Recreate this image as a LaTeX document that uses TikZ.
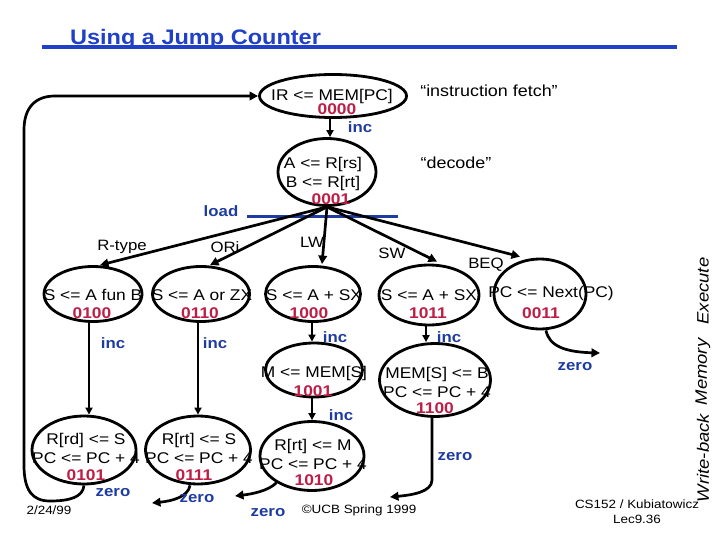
\documentclass[tikz,border=0pt]{standalone}
\usepackage{fontspec}
\setmainfont{Liberation Sans}[FakeStretch=1.12]
\usetikzlibrary{shapes.geometric,arrows.meta}
\definecolor{titleblue}{RGB}{32,64,200}
\definecolor{incblue}{RGB}{30,60,160}
\definecolor{numred}{RGB}{190,30,70}
\begin{document}
\begin{tikzpicture}[x=1pt,y=-1pt,
  st/.style={ellipse,draw,line width=2.8pt,inner sep=0pt},
  txt/.style={font=\fontsize{15.5}{19}\selectfont,align=center,inner sep=0pt},
  num/.style={font=\bfseries\fontsize{15.5}{19}\selectfont,text=numred,inner sep=0pt},
  blab/.style={font=\bfseries\fontsize{15}{18}\selectfont,text=incblue,inner sep=0pt},
  klab/.style={font=\fontsize{15}{18}\selectfont,inner sep=0pt},
  small/.style={font=\fontsize{12}{15}\selectfont,inner sep=0pt,align=center},
  vlab/.style={font=\itshape\fontsize{16.5}{18}\selectfont,inner sep=0pt,rotate=90},
  arr/.style={-{Triangle[length=8.5pt,width=8.5pt]},line width=2.7pt},
  incarr/.style={-{Triangle[length=7pt,width=7pt]},line width=2pt},
]
\useasboundingbox (0,0) rectangle (720,540);

% title
\node[anchor=base,font=\bfseries\fontsize{21}{24}\selectfont,text=titleblue,inner sep=0pt] (title) at (195.5,45) {Using a Jump Counter};
\coordinate (tl1) at (42,47.5);
\coordinate (tl2) at (677,47.5);
\draw[titleblue,line width=4pt] (tl1) -- (tl2);

% states
\node[st,minimum width=147pt,minimum height=43pt] (f0) at (333,96) {};
\node[st,minimum width=98pt,minimum height=67pt] (f1) at (327,172) {};
\node[st,minimum width=98pt,minimum height=55pt] (s4) at (93,294) {};
\node[st,minimum width=97pt,minimum height=55pt] (s6) at (201,294) {};
\node[st,minimum width=95pt,minimum height=55pt] (s8) at (313,294) {};
\node[st,minimum width=100pt,minimum height=60pt] (s11) at (429,295) {};
\node[st,minimum width=92pt,minimum height=70pt] (s3) at (540,294) {};
\node[st,minimum width=97pt,minimum height=54pt] (s9) at (314,370) {};
\node[st,minimum width=111pt,minimum height=73pt] (s12) at (435,380) {};
\node[st,minimum width=104pt,minimum height=68pt] (s5) at (84,450) {};
\node[st,minimum width=105pt,minimum height=68pt] (s7) at (198,450) {};
\node[st,minimum width=104pt,minimum height=69pt] (s10) at (312,456) {};

% state texts
\node[txt] (f0t) at (332,96) {IR <= MEM[PC]};
\node[num] (f0n) at (337,109) {0000};
\node[txt] (f1t) at (323,173.5) {A <= R[rs]\\B <= R[rt]};
\node[num] (f1n) at (331,199) {0001};
\node[txt] (s4t) at (93,295) {S <= A fun B};
\node[num] (s4n) at (92,313) {0100};
\node[txt] (s6t) at (202,295) {S <= A or ZX};
\node[num] (s6n) at (200,313) {0110};
\node[txt] (s8t) at (314,295) {S <= A + SX};
\node[num] (s8n) at (309,313) {1000};
\node[txt] (s11t) at (429,295) {S <= A + SX};
\node[num] (s11n) at (428,313) {1011};
\node[txt] (s3t) at (551,293) {PC <= Next(PC)};
\node[num] (s3n) at (541,313) {0011};
\node[txt] (s9t) at (314,373) {M <= MEM[S]};
\node[num] (s9n) at (313,391) {1001};
\node[txt] (s12t) at (437,382.5) {MEM[S] <= B\\PC <= PC + 4};
\node[num] (s12n) at (435,408) {1100};
\node[txt] (s5t) at (86,448.5) {R[rd] <= S\\PC <= PC + 4};
\node[num] (s5n) at (86,475) {0101};
\node[txt] (s7t) at (199,448.5) {R[rt] <= S\\PC <= PC + 4};
\node[num] (s7n) at (194,475) {0111};
\node[txt] (s10t) at (313,454) {R[rt] <= M\\PC <= PC + 4};
\node[num] (s10n) at (314,480) {1010};

% side texts
\node[klab,font=\fontsize{16}{18}\selectfont] (ifetch) at (489,91) {“instruction fetch”};
\node[klab,font=\fontsize{16}{18}\selectfont] (idecode) at (456,163) {“decode”};

% load line
\node[blab] (load) at (221,211) {load};
\coordinate (ld1) at (247,217);
\coordinate (ld2) at (398,217);
\draw[incblue,line width=3pt] (ld1) -- (ld2);

% fetch -> decode
\draw[incarr] ([xshift=-3pt]f0.south) -- ([xshift=3pt]f1.north);
\node[blab] (inc0) at (360,127) {inc};

% decode branches
\draw[arr] (f1.south) -- ([xshift=7pt]s4.north);
\draw[arr] (f1.south) -- ([xshift=9pt]s6.north);
\draw[arr] (f1.south) -- ([xshift=9pt,yshift=1pt]s8.north);
\draw[arr] (f1.south) -- ([xshift=8pt,yshift=2pt]s11.north);
\draw[arr] (f1.south) -- ([xshift=-20pt,yshift=1pt]s3.north);
\node[klab] (lrt) at (122,247) {R-type};
\node[klab] (lori) at (225,247) {ORi};
\node[klab] (llw) at (312,242) {LW};
\node[klab] (lsw) at (392,253) {SW};
\node[klab] (lbeq) at (486,265) {BEQ};

% inc arrows
\draw[incarr] ([xshift=-4pt]s4.south) -- ([xshift=5pt]s5.north);
\node[blab] (inc1) at (113,343) {inc};
\draw[incarr] ([xshift=-3pt]s6.south) -- (s7.north);
\node[blab] (inc2) at (215,343) {inc};
\draw[incarr] ([xshift=-1pt]s8.south) -- ([xshift=-2pt]s9.north);
\node[blab] (inc3) at (335,337) {inc};
\draw[incarr] ([xshift=-3pt]s11.south) -- ([xshift=-9pt]s12.north);
\node[blab] (inc4) at (449,337) {inc};
\draw[incarr] ([xshift=-2pt]s9.south) -- (s10.north);
\node[blab] (inc5) at (341,415) {inc};

% zero arrows
\coordinate (z7) at (152,503);
\coordinate (z10) at (235,496);
\coordinate (z12) at (390,497);
\coordinate (z3) at (600,353);
\draw[arr] (s5.south) .. controls (83,497) and (70,501) .. (50,501)
  .. controls (32,501) and (24,490) .. (24,465) -- (24,130)
  .. controls (24,108) and (35,96) .. (55,96) -- (f0.west);
\node[blab] (zr5) at (113,493) {zero};
\draw[arr] ([xshift=-8pt]s7.south) .. controls (188,497) and (172,501) .. (z7);
\node[blab] (zr7) at (197,499) {zero};
\draw[arr] (s10.217) .. controls (268,491) and (252,494) .. (z10);
\node[blab] (zr10) at (268,513) {zero};
\draw[arr] ([xshift=-3pt]s12.south) -- (432,480) .. controls (432,492) and (412,495) .. (z12);
\node[blab] (zr12) at (455,457) {zero};
\draw[arr] ([xshift=6pt]s3.south) .. controls (549,346) and (565,352) .. (z3);
\node[blab] (zr3) at (575,367) {zero};

% footer
\node[small] (date) at (49,510) {2/24/99};
\node[small] (copy) at (359,510) {©UCB Spring 1999};
\node[small] (cs) at (637,511.5) {CS152 / Kubiatowicz\\Lec9.36};

% vertical labels
\node[vlab] (vex) at (703,291) {Execute};
\node[vlab] (vmem) at (703,372) {Memory};
\node[vlab] (vwb) at (703,458) {Write-back};
\end{tikzpicture}
\end{document}
